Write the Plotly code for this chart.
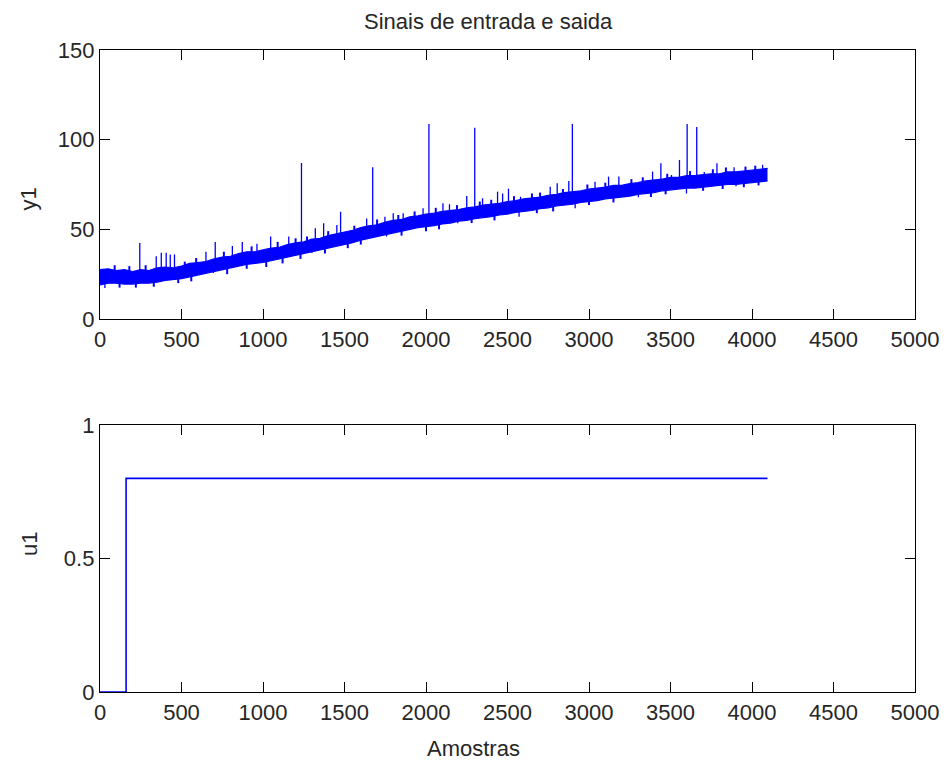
import plotly.graph_objects as go

# ---------------- data ----------------
# output y1: noisy trend, sampled as a band (lower / upper edge every 50 samples)
band_x = [0, 50, 100, 150, 200, 250, 300, 350, 400, 450, 500, 550, 600, 650, 700, 750,
          800, 850, 900, 950, 1000, 1050, 1100, 1150, 1200, 1250, 1300, 1350, 1400, 1450,
          1500, 1550, 1600, 1650, 1700, 1750, 1800, 1850, 1900, 1950, 2000, 2050, 2100,
          2150, 2200, 2250, 2300, 2350, 2400, 2450, 2500, 2550, 2600, 2650, 2700, 2750,
          2800, 2850, 2900, 2950, 3000, 3050, 3100, 3150, 3200, 3250, 3300, 3350, 3400,
          3450, 3500, 3550, 3600, 3650, 3700, 3750, 3800, 3850, 3900, 3950, 4000, 4050, 4095]
band_upper = [27.5, 28, 27, 27.5, 26.5, 27.5, 27, 28.5, 29, 28.5, 29.5, 31, 31.5, 32, 33.5,
              34.5, 35, 36.5, 37.5, 37.5, 38.5, 39.5, 40, 41.5, 42.5, 43, 44.5, 45, 46.5,
              47.5, 48.5, 49.5, 51, 52, 52.5, 54, 55, 55.5, 57, 57.5, 58.5, 59, 60, 60.5,
              61, 62, 62.5, 63.5, 64, 64.5, 65.5, 66, 67, 67.5, 68, 69, 69.5, 70.5, 71,
              71.5, 72.5, 73, 73.5, 74.5, 74.5, 75.5, 76, 77, 77.5, 78, 79, 79, 80, 80,
              80.5, 81, 81, 82, 82, 82.5, 83, 83.5, 84]
band_lower = [19, 20, 20, 19.5, 19.5, 20, 20, 20.5, 21.5, 22, 22.5, 23.5, 24.5, 25.5, 26.5,
              27.5, 28.5, 29.5, 30.5, 31, 31.5, 32.5, 33.5, 34.5, 35.5, 36.5, 37.5, 38.5,
              39.5, 40.5, 41.5, 42.5, 44, 45, 46, 47, 48, 49, 50, 51, 51.5, 52, 53, 53.5,
              54.5, 55, 56, 56.5, 57, 58, 58.5, 59.5, 60, 60.5, 61.5, 62, 63, 63.5, 64, 65,
              65.5, 66, 67, 67.5, 68, 68.5, 69.5, 70, 70.5, 71.5, 72, 72.5, 73, 73, 73.5,
              74, 74.5, 75, 75, 75.5, 76, 76.5, 77]

# isolated excursions of y1: sample index, lowest and highest value reached
spike_x = [244, 1236, 1673, 2018, 2299, 2898, 3602, 3661,
           345, 376, 406, 431, 457, 650, 707, 812, 873, 963, 1047, 1158, 1321, 1372,
           1453, 1476, 1636, 1748, 1799, 1860, 1982, 2104, 2144, 2250, 2347, 2439, 2470,
           2506, 2580, 2762, 2805, 2876, 3037, 3120, 3183, 3390, 3441, 3506, 3555, 3707,
           3785, 3890, 4065,
           30, 695, 1300, 1758, 2195, 2571, 2915, 3303, 3598, 3902]
spike_lo = [23.5, 40, 49, 55, 59, 67.5, 76, 77,
            24, 24.5, 25, 25, 25.5, 28, 30, 32, 33, 34.5, 36, 38, 41, 42, 44, 44.5, 48,
            50.5, 51.5, 53, 55, 56.5, 57, 58.5, 60, 61, 61.5, 62, 63, 65, 65.5, 66.5, 69,
            70, 70.5, 73.5, 74.5, 75.5, 76, 77, 77.5, 78.5, 80,
            17.3, 25.6, 36.8, 46, 53.4, 57, 61.7, 67.9, 70, 74]
spike_hi = [42.4, 87, 84.6, 108.8, 106.7, 108.8, 108.8, 107,
            35, 37, 37, 36, 36, 37.5, 43, 40.7, 43, 42, 46, 46, 50.6, 53.4, 52.4, 59.8,
            56, 57, 59, 59, 61.7, 64.5, 64, 68.6, 67.3, 71, 70, 72.7, 68.2, 73.8, 75.7,
            77, 76.6, 79.4, 79.4, 82.2, 86.8, 80.3, 88.7, 82, 86.8, 84.6, 86,
            24, 30, 41, 50, 57, 60.5, 66, 72, 76, 78]

# small jitter just past the band edges (sample, low, high)
jitter_x = [90, 180, 280, 520, 590, 760, 930, 1090, 1200, 1270, 1400, 1560, 1700, 1830,
            1930, 2060, 2190, 2330, 2400, 2540, 2650, 2700, 2840, 2990, 3100, 3260, 3330,
            3480, 3620, 3760, 3840, 3960, 4020,
            120, 220, 330, 480, 560, 780, 900, 1020, 1120, 1230, 1380, 1520, 1600, 1850,
            2000, 2080, 2280, 2420, 2680, 2780, 3000, 3150, 3380, 3470, 3700, 3820, 3950,
            4040]
jitter_lo = [24, 24, 24, 26, 28, 31, 34.5, 37, 39, 40, 43, 46.5, 50, 52.5, 54, 56, 58,
             59.5, 60.5, 62.5, 64, 65, 67, 69, 70, 72, 73, 75, 76.5, 77.5, 78, 79, 79.5,
             17.5, 17.5, 18, 20, 21, 25, 28, 29, 31, 33.5, 36.5, 39.5, 41.5, 46.5, 49, 50,
             53.5, 55, 59, 60, 63.5, 65, 68, 69.5, 71.5, 72.5, 73.5, 74.5]
jitter_hi = [30, 29.5, 30, 32, 34, 37.5, 40.5, 43, 45, 46, 49, 52, 55.5, 58, 60, 62, 63.5,
             65.5, 66.5, 68.5, 70, 70.5, 72.5, 75, 76, 78, 79, 81, 82.5, 83.5, 84.5, 85,
             85.5,
             23.5, 23.5, 24, 26, 27, 31, 34, 35, 37, 39, 42.5, 45, 47.5, 52.5, 55, 56,
             59, 60.5, 65, 66, 69, 70.5, 73.5, 75, 77, 78, 79, 80]

# input u1: step applied at sample 160
u_x = [0, 160, 4095]
u_y = [0, 0.8, 0.8]

x_ticks = [0, 500, 1000, 1500, 2000, 2500, 3000, 3500, 4000, 4500, 5000]

# ---------------- figure ----------------
BLUE = "rgb(0,0,255)"
FONT = "Liberation Sans, Arial, sans-serif"
TXT = "#262626"

fig = go.Figure()

fig.add_trace(go.Scatter(x=band_x, y=band_lower, mode="lines",
                         line=dict(color=BLUE, width=1.2), xaxis="x", yaxis="y",
                         showlegend=False, hoverinfo="skip"))
fig.add_trace(go.Scatter(x=band_x, y=band_upper, mode="lines",
                         line=dict(color=BLUE, width=1.2), fill="tonexty",
                         fillcolor=BLUE, xaxis="x", yaxis="y",
                         showlegend=False, hoverinfo="skip"))


def segments(xs, los, his):
    px, py = [], []
    for x, lo, hi in zip(xs, los, his):
        px += [x, x, None]
        py += [lo, hi, None]
    return px, py


jx, jy = segments(jitter_x, jitter_lo, jitter_hi)
fig.add_trace(go.Scatter(x=jx, y=jy, mode="lines", line=dict(color=BLUE, width=2),
                         xaxis="x", yaxis="y", showlegend=False, hoverinfo="skip"))

sx, sy = segments(spike_x, spike_lo, spike_hi)
fig.add_trace(go.Scatter(x=sx, y=sy, mode="lines", line=dict(color=BLUE, width=1.3),
                         xaxis="x", yaxis="y", showlegend=False, hoverinfo="skip"))

fig.add_trace(go.Scatter(x=u_x, y=u_y, mode="lines", line_shape="hv",
                         line=dict(color=BLUE, width=1.6), xaxis="x2", yaxis="y2",
                         showlegend=False))

axis_common = dict(showline=True, linecolor="black", linewidth=1.3, mirror="ticks",
                   ticks="inside", ticklen=10, tickwidth=1.3, tickcolor="black",
                   showgrid=False, zeroline=False,
                   tickfont=dict(family=FONT, size=22, color=TXT))

fig.update_layout(
    width=951, height=762,
    margin=dict(l=100, r=31, t=50, b=70),
    paper_bgcolor="white", plot_bgcolor="white",
    xaxis=dict(domain=[0, 1], range=[0, 5000], tickvals=x_ticks, anchor="y",
               **axis_common),
    yaxis=dict(domain=[0.581, 1], range=[0, 150], tickvals=[0, 50, 100, 150],
               anchor="x", **axis_common),
    xaxis2=dict(domain=[0, 1], range=[0, 5000], tickvals=x_ticks, anchor="y2",
                **axis_common),
    yaxis2=dict(domain=[0, 0.416], range=[0, 1], tickvals=[0, 0.5, 1],
                ticktext=["0", "0.5", "1"], anchor="x2", **axis_common),
    annotations=[
        dict(text="Sinais de entrada e saida", xref="paper", yref="paper",
             x=(491 - 100) / 820, y=1.0, yshift=43, showarrow=False,
             font=dict(family=FONT, size=22, color=TXT)),
        dict(text="y1", xref="paper", yref="paper", x=-0.105, y=(692 - 185) / 642,
             textangle=-90, showarrow=False, font=dict(family=FONT, size=22, color=TXT)),
        dict(text="u1", xref="paper", yref="paper", x=-0.105, y=(692 - 558) / 642,
             textangle=-90, showarrow=False, font=dict(family=FONT, size=22, color=TXT)),
        dict(text="Amostras", xref="paper", yref="paper", x=(476 - 100) / 820,
             y=-(750 - 692) / 642, yshift=-13, showarrow=False,
             font=dict(family=FONT, size=22, color=TXT)),
    ],
)

fig.write_html("out.html")
